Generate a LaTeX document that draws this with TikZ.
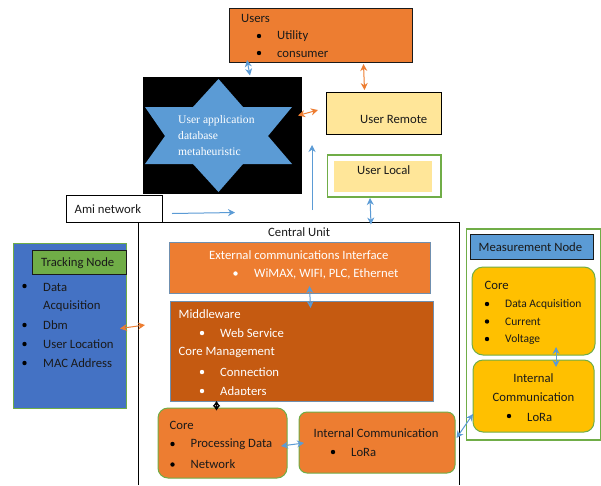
\documentclass[tikz,border=0pt]{standalone}
\usepackage{fontspec}
\setmainfont{Carlito}
\newfontfamily\starfont{Liberation Serif}
\usetikzlibrary{arrows.meta}
\definecolor{orangeA}{HTML}{ED7D31}
\definecolor{brownA}{HTML}{C55A11}
\definecolor{blueA}{HTML}{5B9BD5}
\definecolor{blueB}{HTML}{4472C4}
\definecolor{greenA}{HTML}{70AD47}
\definecolor{yellowA}{HTML}{FFE699}
\definecolor{goldA}{HTML}{FFC000}
\definecolor{slateA}{HTML}{6F8FAF}
\definecolor{inkA}{HTML}{1A1A1A}
\tikzset{
  x=1pt,y=-1pt,
  txt/.style={anchor=west,inner sep=0pt,font=\fontsize{12.7}{14}\selectfont,text=inkA},
  wtxt/.style={txt,text=white},
  smalltxt/.style={txt,font=\fontsize{11.5}{13}\selectfont},
  startxt/.style={txt,text=white,font=\starfont\fontsize{11.6}{14}\selectfont},
  dot/.style={circle,fill=black,inner sep=0pt,minimum size=4.4pt},
  wdot/.style={circle,fill=white,inner sep=0pt,minimum size=4.4pt},
  boxA/.style={rectangle,anchor=north west,inner sep=0pt,outer sep=0pt},
  blink/.style={{Stealth[length=7pt,width=7pt]}-{Stealth[length=7pt,width=7pt]},draw=blueA,line width=1pt},
  olink/.style={{Stealth[length=7pt,width=7pt]}-{Stealth[length=7pt,width=7pt]},draw=orangeA,line width=1pt},
  bone/.style={-{Stealth[length=7pt,width=7pt]},draw=blueA,line width=1pt},
  klink/.style={{Stealth[length=5.5pt,width=7pt]}-{Stealth[length=5.5pt,width=7pt]},draw=black,line width=1pt}
}
\newcommand{\bx}[7]{\node[boxA,minimum width=#4pt-#2pt,minimum height=#5pt-#3pt,#6] (#1) at (#2,#3) {#7};}
\begin{document}
\begin{tikzpicture}
\useasboundingbox[fill=white] (0,0) rectangle (601,485);
% central
\path[draw=black,line width=.7pt] (138.5,485) -- (138.5,222.5) -- (459.5,222.5) -- (459.5,485);
% users
\bx{users}{229}{8.5}{412}{62}{draw=inkA,fill=orangeA,line width=.7pt}{}
\node[txt] at (241,18) {Users};
\node[dot] at (259,36) {}; \node[txt] at (277,36.5) {Utility};
\node[dot] at (259,53) {}; \node[txt] at (277,54) {consumer};
% black + star
\bx{app}{143}{76.5}{302}{193.5}{fill=black}{}
\fill[blueA] (218.5,79) -- (243,107) -- (292,107) -- (268,136) -- (292,164) -- (243,164) -- (218.5,192) -- (193,164) -- (145,164) -- (165,136) -- (145,107) -- (193,107) -- cycle;
\node[startxt] at (178,121) {User application};
\node[startxt] at (178,136) {database};
\node[startxt] at (178,152) {metaheuristic};
% remote/local
\bx{remote}{326.5}{92.5}{441.5}{134.5}{draw=black,fill=yellowA,line width=.8pt}{}
\node[txt] at (360,119.5) {User Remote};
\bx{localo}{327.5}{155}{441}{197}{draw=greenA,line width=1.1pt}{}
\bx{locali}{334}{161}{432}{192}{fill=yellowA}{}
\node[txt] at (357,170.5) {User Local};
% ami
\bx{ami}{66.5}{195.5}{162}{222}{draw=black,fill=white,line width=.7pt}{}
\node[txt] at (74.5,209) {Ami network};
\node[txt] at (268,232.5) {Central Unit};
% tracking
\bx{track}{13.5}{243}{126.5}{408}{draw=greenA,fill=blueB,line width=1pt}{}
\bx{tracknode}{32.5}{250}{126}{274}{draw=inkA,fill=greenA,line width=.7pt}{}
\node[txt] at (41,263) {Tracking Node};
\node[dot] at (24.5,286) {}; \node[txt] at (43,287) {Data};
\node[txt] at (43,306) {Acquisition};
\node[dot] at (24.5,325) {}; \node[txt] at (43,325) {Dbm};
\node[dot] at (24.5,344) {}; \node[txt] at (43,344) {User Location};
\node[dot] at (24.5,363) {}; \node[txt] at (43,363.5) {MAC Address};
% external
\bx{ext}{169.5}{242}{430.5}{293}{draw=slateA,fill=orangeA,line width=.8pt}{}
\node[wtxt] at (209,255.5) {External communications Interface};
\node[wdot] at (235.5,273.5) {}; \node[wtxt] at (254,273.5) {WiMAX, WIFI, PLC, Ethernet};
% middleware
\bx{mid}{170}{301}{433}{401}{draw=slateA,fill=brownA,line width=.8pt}{}
\node[wtxt] at (178.5,314) {Middleware};
\node[wdot] at (202,333) {}; \node[wtxt] at (220,333.5) {Web Service};
\node[wtxt] at (178.5,352.5) {Core Management};
\node[wdot] at (202,372) {}; \node[wtxt] at (220,372.5) {Connection};
\node[wdot] at (202,391) {};
\begin{scope}
\clip (210,380) rectangle (300,394.5);
\node[wtxt] at (220,392) {Adapters};
\end{scope}
% core
\bx{core}{158}{408}{287}{478}{draw=greenA,fill=orangeA,rounded corners=10pt,line width=1pt}{}
\node[txt] at (169.5,425) {Core};
\node[dot] at (172.5,444) {}; \node[txt] at (190.5,444.5) {Processing Data};
\node[dot] at (172.5,464.5) {}; \node[txt] at (190.5,464.5) {Network};
% internal
\bx{intl}{299}{412}{455}{473}{draw=greenA,fill=orangeA,rounded corners=8pt,line width=1pt}{}
\node[txt] at (313.5,433) {Internal Communication};
\node[dot] at (333,452) {}; \node[txt] at (351,452.5) {LoRa};
% measurement
\bx{meas}{466.5}{229}{601}{440}{draw=greenA,line width=1.1pt}{}
\bx{measnode}{470.5}{234}{593}{259}{draw=inkA,fill=blueA,line width=.7pt}{}
\node[txt] at (478.5,247.5) {Measurement Node};
\bx{mcore}{472}{267}{595}{355}{draw=greenA,fill=goldA,rounded corners=11pt,line width=1pt}{}
\node[txt] at (484.5,285.5) {Core};
\node[dot] at (487,304) {}; \node[smalltxt] at (505,304) {Data Acquisition};
\node[dot] at (487,321.5) {}; \node[smalltxt] at (505,321.5) {Current};
\node[dot] at (487,339) {}; \node[smalltxt] at (505,339) {Voltage};
\bx{mint}{473}{360}{594}{432}{draw=greenA,fill=goldA,rounded corners=10pt,line width=1pt}{}
\node[txt,anchor=center] at (533.5,378) {Internal};
\node[txt,anchor=center] at (533.5,397) {Communication};
\node[dot] at (509,416) {}; \node[txt] at (527,417) {LoRa};
% link end coordinates
\coordinate (a1) at (247,60); \coordinate (a2) at (250,75.5);
\coordinate (b1) at (363.5,64); \coordinate (b2) at (364.5,90);
\coordinate (c1) at (298,115.5); \coordinate (c2) at (318,110);
\coordinate (d1) at (370,198); \coordinate (d2) at (371,224.5);
\coordinate (e1) at (172,213.5); \coordinate (e2) at (235,212.5);
\coordinate (f1) at (312,210); \coordinate (f2) at (312,145);
\coordinate (g1) at (120,328.5); \coordinate (g2) at (145,325);
\coordinate (h1) at (309.5,286); \coordinate (h2) at (310.5,308);
\coordinate (i1) at (216.5,401); \coordinate (i2) at (216.5,410.5);
\coordinate (j1) at (281,446); \coordinate (j2) at (304,443);
\coordinate (k1) at (456.5,438); \coordinate (k2) at (473,414);
\coordinate (l1) at (556,347); \coordinate (l2) at (556,367);
% links
\draw[blink] (a1) -- (a2);
\draw[olink] (b1) -- (b2);
\draw[olink] (c1) -- (c2);
\draw[blink] (d1) -- (d2);
\draw[bone] (e1) -- (e2);
\draw[bone] (f1) -- (f2);
\draw[olink] (g1) -- (g2);
\draw[blink] (h1) -- (h2);
\draw[klink] (i1) -- (i2);
\draw[blink] (j1) -- (j2);
\draw[blink] (k1) -- (k2);
\draw[blink] (l1) -- (l2);
\end{tikzpicture}
\end{document}
